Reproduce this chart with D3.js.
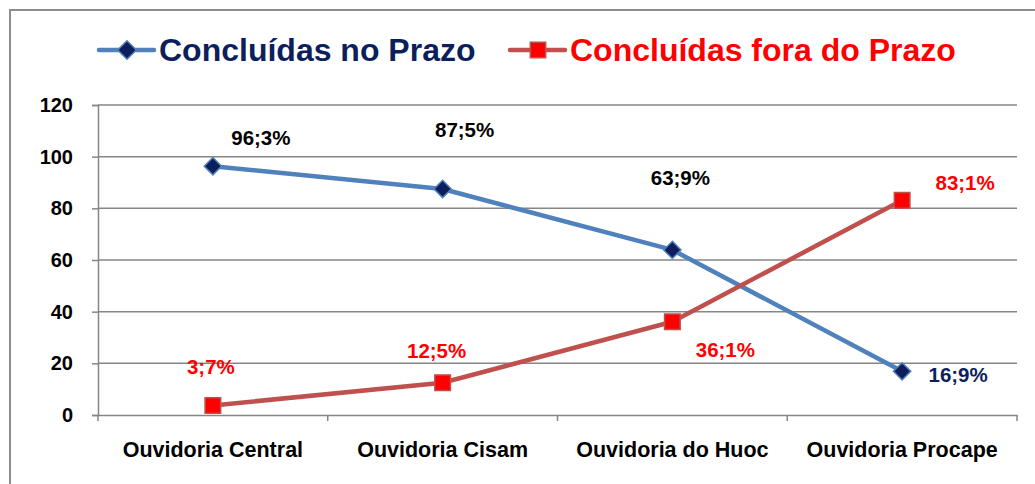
<!DOCTYPE html>
<html>
<head>
<meta charset="utf-8">
<script src="https://cdn.jsdelivr.net/npm/d3@7"></script>
<style>
  body { margin: 0; background: #fff; }
  text { font-family: "Liberation Sans", Arial, sans-serif; font-weight: bold; }
</style>
</head>
<body>
<svg id="chart" width="1035" height="484"></svg>
<script>
const categories = ['Ouvidoria Central', 'Ouvidoria Cisam', 'Ouvidoria do Huoc', 'Ouvidoria Procape'];
const noPrazo = [96.3, 87.5, 63.9, 16.9];
const foraPrazo = [3.7, 12.5, 36.1, 83.1];
const noPrazoLabels = ['96;3%', '87;5%', '63;9%', '16;9%'];
const foraPrazoLabels = ['3;7%', '12;5%', '36;1%', '83;1%'];
const yTicks = [0, 20, 40, 60, 80, 100, 120];

// label placement (dx, dy from the point) and colours
const noPrazoOffsets = [[48, -28], [22, -59], [8, -72], [56, 3]];
const noPrazoColors = ['#000', '#000', '#000', '#0c1f5c'];
const foraPrazoOffsets = [[-2, -39], [-6, -32], [53, 28], [63, -18]];

const svg = d3.select('#chart');
const plotLeft = 98, plotRight = 1017, plotTop = 105, plotBottom = 415;

// outer frame
svg.append('rect')
  .attr('x', 10).attr('y', 10).attr('width', 1040).attr('height', 490)
  .attr('fill', 'none').attr('stroke', '#8c8c8c').attr('stroke-width', 2);

const x = d3.scaleBand().domain(categories).range([plotLeft, plotRight]).padding(0);
const cx = d => x(d) + x.bandwidth() / 2;
const y = d3.scaleLinear().domain([0, 120]).range([plotBottom, plotTop]);

// grid + y axis
const yAxis = svg.append('g')
  .attr('transform', `translate(${plotLeft},0)`)
  .call(d3.axisLeft(y).tickValues(yTicks).tickSize(6).tickPadding(19));
yAxis.select('.domain').attr('stroke', '#868686').attr('stroke-width', 1.5);
yAxis.selectAll('.tick line').attr('stroke', '#868686').attr('stroke-width', 1.5);
yAxis.selectAll('.tick text').attr('font-size', 20).attr('fill', '#000')
  .attr('font-family', '"Liberation Sans", Arial, sans-serif').attr('font-weight', 'bold');

svg.append('g').selectAll('line')
  .data(yTicks.filter(d => d > 0))
  .join('line')
  .attr('x1', plotLeft).attr('x2', plotRight)
  .attr('y1', d => y(d)).attr('y2', d => y(d))
  .attr('stroke', '#868686').attr('stroke-width', 1.5);

// x axis
const xAxis = svg.append('g')
  .attr('transform', `translate(0,${plotBottom})`)
  .call(d3.axisBottom(x).tickSize(0).tickPadding(27));
xAxis.select('.domain').attr('stroke', '#868686').attr('stroke-width', 1.5);
xAxis.selectAll('.tick text').attr('font-size', 21.5).attr('fill', '#000')
  .attr('font-family', '"Liberation Sans", Arial, sans-serif').attr('font-weight', 'bold');

const bounds = categories.map(c => x(c)).concat([x(categories[categories.length - 1]) + x.bandwidth()]);
svg.append('g').selectAll('line')
  .data(bounds)
  .join('line')
  .attr('x1', d => d).attr('x2', d => d)
  .attr('y1', plotBottom).attr('y2', plotBottom + 6)
  .attr('stroke', '#868686').attr('stroke-width', 1.5);

const line = d3.line().x(d => cx(d.c)).y(d => y(d.v));
const blueData = categories.map((c, i) => ({ c, v: noPrazo[i] }));
const redData = categories.map((c, i) => ({ c, v: foraPrazo[i] }));

svg.append('path').datum(blueData).attr('d', line)
  .attr('fill', 'none').attr('stroke', '#4f81bd').attr('stroke-width', 4.5).attr('stroke-linejoin', 'round');
svg.append('path').datum(redData).attr('d', line)
  .attr('fill', 'none').attr('stroke', '#c0504d').attr('stroke-width', 4.5).attr('stroke-linejoin', 'round');

const diamond = d3.symbol().type(d3.symbolDiamond2).size(190);
const square = d3.symbol().type(d3.symbolSquare2).size(310);

svg.append('g').selectAll('path')
  .data(blueData)
  .join('path')
  .attr('d', diamond)
  .attr('transform', d => `translate(${cx(d.c)},${y(d.v)})`)
  .attr('fill', '#0c1f5c').attr('stroke', '#4f81bd').attr('stroke-width', 1.5);

svg.append('g').selectAll('path')
  .data(redData)
  .join('path')
  .attr('d', square)
  .attr('transform', d => `translate(${cx(d.c)},${y(d.v)})`)
  .attr('fill', '#ff0000').attr('stroke', '#c0504d').attr('stroke-width', 1.5);

// data labels
svg.append('g').selectAll('text')
  .data(blueData)
  .join('text')
  .attr('x', (d, i) => cx(d.c) + noPrazoOffsets[i][0])
  .attr('y', (d, i) => y(d.v) + noPrazoOffsets[i][1])
  .attr('dy', '0.35em')
  .attr('text-anchor', 'middle')
  .attr('font-size', 20.5)
  .attr('fill', (d, i) => noPrazoColors[i])
  .text((d, i) => noPrazoLabels[i]);

svg.append('g').selectAll('text')
  .data(redData)
  .join('text')
  .attr('x', (d, i) => cx(d.c) + foraPrazoOffsets[i][0])
  .attr('y', (d, i) => y(d.v) + foraPrazoOffsets[i][1])
  .attr('dy', '0.35em')
  .attr('text-anchor', 'middle')
  .attr('font-size', 20.5)
  .attr('fill', '#ff0000')
  .text((d, i) => foraPrazoLabels[i]);

// legend
const legend = [
  { name: 'Concluídas no Prazo', x: 99, stroke: '#4f81bd', fill: '#0c1f5c', text: '#0c1f5c', sym: d3.symbol().type(d3.symbolDiamond2).size(220) },
  { name: 'Concluídas fora do Prazo', x: 510, stroke: '#c0504d', fill: '#ff0000', text: '#ff0000', sym: d3.symbol().type(d3.symbolSquare2).size(300) }
];
const lg = svg.append('g').selectAll('g').data(legend).join('g')
  .attr('transform', d => `translate(${d.x},50)`);
lg.append('line').attr('x1', 0).attr('x2', 55).attr('y1', 0).attr('y2', 0)
  .attr('stroke', d => d.stroke).attr('stroke-width', 4.5).attr('stroke-linecap', 'round');
lg.append('path').attr('d', d => d.sym()).attr('transform', 'translate(28,0)')
  .attr('fill', d => d.fill).attr('stroke', d => d.stroke).attr('stroke-width', 1.5);
lg.append('text').attr('x', 60).attr('dy', '0.35em')
  .attr('font-size', 32).attr('fill', d => d.text)
  .text(d => d.name);
</script>
</body>
</html>
